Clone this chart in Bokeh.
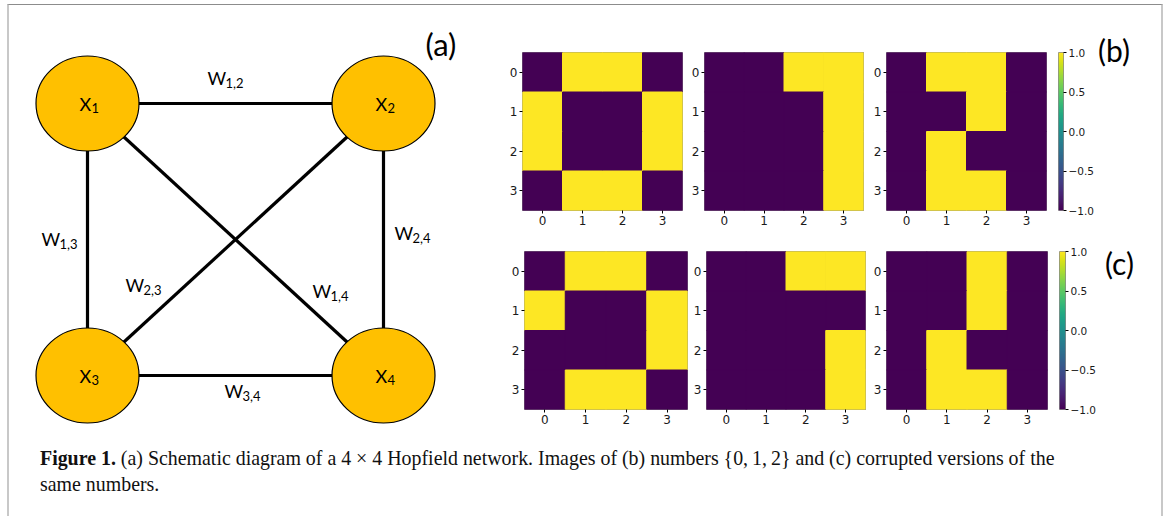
import numpy as np
from bokeh.plotting import figure
from bokeh.models import Range1d, FixedTicker, LinearColorMapper, Div, ColumnDataSource
from bokeh.layouts import row, column
from bokeh.palettes import Viridis256
from bokeh.core.properties import value
from bokeh.embed import file_html
from bokeh.resources import INLINE

# ---------------- data ----------------
node_names = ["X", "X", "X", "X"]
node_subs = ["1", "2", "3", "4"]
edges = [(1, 2), (1, 3), (2, 4), (2, 3), (1, 4), (3, 4)]
weight_name = "W"
panel_labels = ["(a)", "(b)", "(c)"]

ticks = [0, 1, 2, 3]
cbar_ticks = [-1.0, -0.5, 0.0, 0.5, 1.0]
cbar_labels = ["\u22121.0", "\u22120.5", "0.0", "0.5", "1.0"]

img_b0 = [[-1, 1, 1, -1], [1, -1, -1, 1], [1, -1, -1, 1], [-1, 1, 1, -1]]
img_b1 = [[-1, -1, 1, 1], [-1, -1, -1, 1], [-1, -1, -1, 1], [-1, -1, -1, 1]]
img_b2 = [[-1, 1, 1, -1], [-1, -1, 1, -1], [-1, 1, -1, -1], [-1, 1, 1, -1]]
img_c0 = [[-1, 1, 1, -1], [1, -1, -1, 1], [-1, -1, -1, 1], [-1, 1, 1, -1]]
img_c1 = [[-1, -1, 1, 1], [-1, -1, -1, -1], [-1, -1, -1, 1], [-1, -1, -1, 1]]
img_c2 = [[-1, -1, 1, -1], [-1, -1, 1, -1], [-1, 1, -1, -1], [-1, 1, 1, -1]]

caption_bold = "Figure 1."
caption_line1 = ("(a) Schematic diagram of a 4 \u00d7 4 Hopfield network. Images of (b) numbers "
                 "{0,\u20091,\u20092} and (c) corrupted versions of the")
caption_line2 = "same numbers."

# ---------------- layout (page pixel coordinates) ----------------
OX, OY = 9, 5          # top-left of content inside frame
node_xy = {1: (87, 103), 2: (383, 103), 3: (87, 375), 4: (383, 375)}
wlabel_xy = {(1, 2): (207, 85), (1, 3): (41, 246), (2, 4): (394, 240),
             (2, 3): (125, 292), (1, 4): (312, 298), (3, 4): (224, 398)}
NODE_W, NODE_H = 103, 95
GOLD = "#FFC000"
SPINE = "#8a8a8a"
TXT_FONT = "Lato"
BL = 0.44   # baseline correction (fraction of font size)

mapper = LinearColorMapper(palette=Viridis256, low=-1, high=1)


def blank_fig(x0, x1, y0, y1):
    p = figure(width=x1 - x0, height=y1 - y0, x_range=Range1d(x0, x1), y_range=Range1d(y1, y0),
               output_backend="svg", toolbar_location=None, min_border=0,
               min_border_left=0, min_border_right=0, min_border_top=0, min_border_bottom=0)
    p.axis.visible = False
    p.grid.visible = False
    p.outline_line_color = None
    p.background_fill_color = "white"
    p.border_fill_color = "white"
    return p


def put_text(p, xs, ys, texts, size):
    p.text(xs, [y - BL * size for y in ys], text=texts, text_font=value(TXT_FONT),
           text_font_size="%dpx" % size, text_baseline="alphabetic", text_align="left",
           text_color="black")


# ---------------- panel (a) ----------------
pa = blank_fig(OX, 490, OY, 430)
ex0 = [node_xy[a][0] for a, b in edges]
ey0 = [node_xy[a][1] for a, b in edges]
ex1 = [node_xy[b][0] for a, b in edges]
ey1 = [node_xy[b][1] for a, b in edges]
pa.segment(ex0, ey0, ex1, ey1, line_color="black", line_width=3.2)
nx = [node_xy[i + 1][0] for i in range(4)]
ny = [node_xy[i + 1][1] for i in range(4)]
pa.ellipse(nx, ny, width=NODE_W, height=NODE_H, fill_color=GOLD, line_color="black", line_width=1.2)
put_text(pa, [x - 8 for x in nx], [y + 8 for y in ny], node_names, 18)
put_text(pa, [x + 4 for x in nx], [y + 10 for y in ny], node_subs, 13)
wx = [wlabel_xy[e][0] for e in edges]
wy = [wlabel_xy[e][1] for e in edges]
put_text(pa, wx, wy, [weight_name] * len(edges), 18)
put_text(pa, [x + 18 for x in wx], [y + 3 for y in wy], ["%d,%d" % e for e in edges], 13)
put_text(pa, [425], [57], [panel_labels[0]], 31)


# ---------------- heatmaps ----------------
def heat_fig(mat, fx0, fx1, fy0, fy1, px0, px1, py0, py1):
    p = figure(width=fx1 - fx0, height=fy1 - fy0,
               x_range=Range1d(-0.5, 3.5), y_range=Range1d(3.5, -0.5),
               output_backend="svg", toolbar_location=None,
               min_border_left=px0 - fx0, min_border_right=fx1 - px1,
               min_border_top=py0 - fy0, min_border_bottom=fy1 - py1)
    xs, ys, vs = [], [], []
    for r, rowv in enumerate(mat):
        for c, v in enumerate(rowv):
            xs.append(c)
            ys.append(r)
            vs.append(v)
    src = ColumnDataSource(data={"x": xs, "y": ys, "v": vs})
    cmap = {"field": "v", "transform": mapper}
    p.rect(x="x", y="y", width=1, height=1, fill_color=cmap,
           line_color=cmap, line_width=1.0, source=src)
    p.grid.visible = False
    p.background_fill_color = Viridis256[0]
    p.outline_line_color = SPINE
    p.outline_line_width = 1
    for ax in (p.xaxis[0], p.yaxis[0]):
        ax.ticker = FixedTicker(ticks=ticks)
        ax.axis_line_color = None
        ax.major_tick_out = 3
        ax.major_tick_in = 0
        ax.minor_tick_line_color = None
        ax.major_label_standoff = 2
        ax.major_label_text_font = "DejaVu Sans"
        ax.major_label_text_font_size = "12px"
        ax.major_label_text_color = "#1a1a1a"
    p.border_fill_color = "white"
    return p


def cbar_fig(fx0, fx1, fy0, fy1, px0, px1, py0, py1):
    p = figure(width=fx1 - fx0, height=fy1 - fy0,
               x_range=Range1d(0, 1), y_range=Range1d(-1, 1), y_axis_location="right",
               output_backend="svg", toolbar_location=None,
               min_border_left=px0 - fx0, min_border_right=fx1 - px1,
               min_border_top=py0 - fy0, min_border_bottom=fy1 - py1)
    grad = np.linspace(-1, 1, 256).reshape(256, 1)
    p.image(image=[grad], x=0, y=-1, dw=1, dh=2, color_mapper=mapper)
    p.xaxis.visible = False
    p.grid.visible = False
    p.outline_line_color = SPINE
    ax = p.yaxis[0]
    ax.ticker = FixedTicker(ticks=cbar_ticks)
    ax.major_label_overrides = {t: l for t, l in zip(cbar_ticks, cbar_labels)}
    ax.axis_line_color = None
    ax.major_tick_out = 3
    ax.major_tick_in = 0
    ax.minor_tick_line_color = None
    ax.major_label_standoff = 2
    ax.major_label_text_font = "DejaVu Sans"
    ax.major_label_text_font_size = "10.5px"
    ax.major_label_text_color = "#1a1a1a"
    p.border_fill_color = "white"
    return p


def label_div(text, fx0, fx1, fy0, fy1, top_px, left_px):
    html = ("<div style=\"font-family:'Lato',sans-serif;font-size:30px;line-height:30px;"
            "color:black;margin-top:%dpx;margin-left:%dpx;\">%s</div>" % (top_px, left_px, text))
    return Div(text=html, width=fx1 - fx0, height=fy1 - fy0, margin=0)


RB0, RB1 = OY, 234
RC0, RC1 = 234, 440

b1 = heat_fig(img_b0, 490, 688, RB0, RB1, 522, 682, 52, 212)
b2 = heat_fig(img_b1, 688, 870, RB0, RB1, 703, 863, 49, 210)
b3 = heat_fig(img_b2, 870, 1050, RB0, RB1, 885, 1046, 51, 211)
cb_b = cbar_fig(1050, 1096, RB0, RB1, 1058, 1065, 51, 211)
lb = label_div(panel_labels[1], 1096, 1161, RB0, RB1, 30, 2)

c1 = heat_fig(img_c0, 490, 690, RC0, RC1, 524, 687, 249, 412)
c2 = heat_fig(img_c1, 690, 870, RC0, RC1, 706, 865, 249, 409)
c3 = heat_fig(img_c2, 870, 1052, RC0, RC1, 885, 1047, 251, 413)
cb_c = cbar_fig(1052, 1098, RC0, RC1, 1059, 1067, 251, 413)
lc = label_div(panel_labels[2], 1098, 1161, RC0, RC1, 14, 7)

right = column(row(b1, b2, b3, cb_b, lb), row(c1, c2, c3, cb_c, lc))
top = row(pa, right)

cap_html = (
    "<div style=\"padding-left:31px;padding-top:5px;font-family:'Liberation Serif',serif;"
    "font-size:19.9px;line-height:26px;color:#111;white-space:nowrap;\">"
    "<b>%s</b> %s<br>%s</div>" % (caption_bold, caption_line1, caption_line2)
)
cap = Div(text=cap_html, width=1152, height=76, margin=0)

page = column(top, cap, styles={
    "border-top": "1px solid #8c8c8c",
    "border-left": "2px solid #c8c8c8",
    "border-right": "2px solid #c8c8c8",
    "margin-top": "4px",
    "margin-left": "7px",
    "background": "white",
})

open("out.html", "w").write(file_html(page, INLINE))
